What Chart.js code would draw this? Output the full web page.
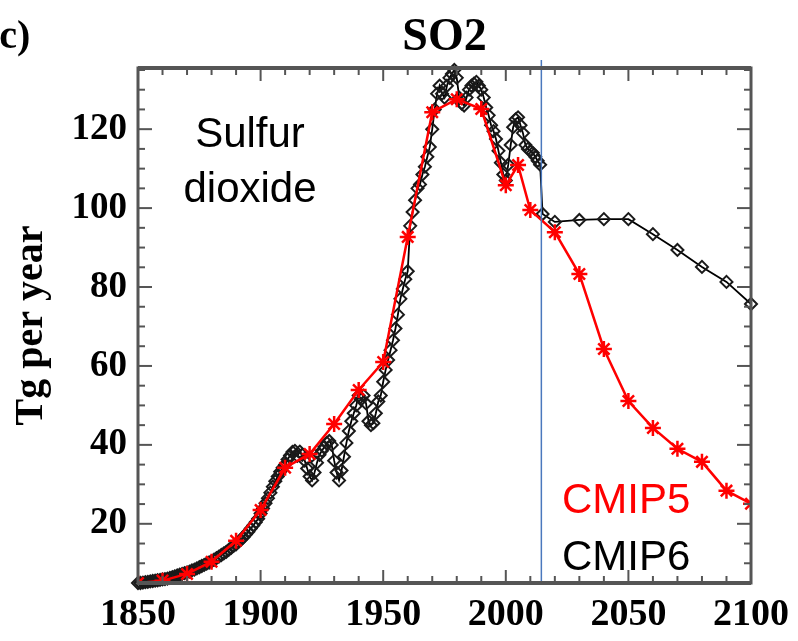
<!DOCTYPE html>
<html>
<head>
<meta charset="utf-8">
<script src="https://cdn.jsdelivr.net/npm/chart.js@4.4.1/dist/chart.umd.min.js"></script>
<style>
  html, body { margin: 0; padding: 0; background: #fff; }
</style>
</head>
<body>
<canvas id="so2Chart" width="798" height="641"></canvas>
<script>
// CMIP5 (red, asterisks)
const cmip5Years = [1850, 1860, 1870, 1880, 1890, 1900, 1910, 1920, 1930, 1940, 1950, 1960, 1970, 1980, 1990, 2000, 2005, 2010, 2020, 2030, 2040, 2050, 2060, 2070, 2080, 2090, 2100];
const cmip5Values = [5.0, 5.6, 7.3, 10.4, 15.7, 23.5, 34.2, 37.7, 45.3, 53.9, 61.0, 92.7, 124.3, 127.6, 125.1, 105.8, 110.9, 99.5, 93.9, 83.3, 64.3, 51.1, 44.3, 39.0, 35.7, 28.4, 25.1];

// CMIP6 (black, diamonds): annual 1850-2014, then scenario years
const cmip6HistValues = [
    5.0, 5.0, 5.1, 5.2, 5.3, 5.4, 5.5, 5.6, 5.7, 5.8,
    5.9, 6.0, 6.1, 6.3, 6.5, 6.7, 6.9, 7.1, 7.3, 7.5,
    7.7, 7.9, 8.2, 8.4, 8.7, 9.0, 9.3, 9.6, 9.9, 10.2,
    10.5, 10.9, 11.3, 11.7, 12.1, 12.5, 12.9, 13.4, 13.9, 14.4,
    14.8, 15.4, 16.0, 16.6, 17.3, 18.0, 18.8, 19.6, 20.4, 21.3,
    22.6, 23.9, 25.2, 26.5, 27.9, 29.4, 30.8, 32.0, 33.2, 34.2,
    35.0, 36.3, 37.3, 38.2, 38.5, 37.2, 38.3, 37.5, 36.0, 34.0,
    32.0, 31.0, 33.0, 35.5, 37.5, 38.5, 39.5, 40.5, 41.0, 40.0,
    36.0, 33.0, 31.0, 33.5, 37.0, 40.5, 43.5, 46.0, 48.0, 50.0,
    52.5, 51.5, 52.5, 50.5, 46.0, 45.0, 45.5, 48.0, 51.0, 52.5,
    56.0, 59.0, 61.5, 64.0, 66.5, 69.5, 73.0, 77.0, 79.5, 82.0,
    84.0, 95.5, 99.0, 102.0, 105.0, 106.0, 108.5, 110.5, 113.0, 115.5,
    120.0, 125.0, 129.0, 131.0, 129.0, 128.0, 131.0, 133.0, 134.0, 135.0,
    133.0, 128.0, 126.5, 126.0, 128.0, 130.0, 131.0, 131.5, 132.0, 131.0,
    130.0, 128.0, 125.5, 123.5, 121.0, 119.5, 117.5, 114.5, 111.5, 108.5,
    107.0, 111.0, 116.0, 120.5, 122.5, 123.0, 121.0, 119.0, 116.0, 115.0,
    114.5, 114.0, 113.0, 112.0, 111.0
];
const cmip6FutureYears = [2015, 2020, 2030, 2040, 2050, 2060, 2070, 2080, 2090, 2100];
const cmip6FutureValues = [98.5, 96.5, 97.0, 97.2, 97.2, 93.4, 89.4, 85.1, 81.3, 75.7];

const xTicks = [1850, 1900, 1950, 2000, 2050, 2100];
const yTicks = [20, 40, 60, 80, 100, 120];
const splitYear = 2014.5;

const cmip5Points = cmip5Years.map((yr, i) => ({ x: yr, y: cmip5Values[i] }));
const cmip6Points = cmip6HistValues.map((v, i) => ({ x: 1850 + i, y: v }))
    .concat(cmip6FutureYears.map((yr, i) => ({ x: yr, y: cmip6FutureValues[i] })));

const serif = '"Liberation Serif", "Times New Roman", serif';
const sans = '"Liberation Sans", Arial, sans-serif';

function line(ctx, x1, y1, x2, y2) {
    ctx.beginPath();
    ctx.moveTo(x1, y1);
    ctx.lineTo(x2, y2);
    ctx.stroke();
}

// frame with inward ticks, split line and text labels
const decorations = {
    id: 'decorations',
    afterDatasetsDraw(chart) {
        const { ctx, chartArea: a, scales: { x, y } } = chart;
        ctx.save();

        // blue line at end of historical period
        ctx.strokeStyle = '#4a78bd';
        ctx.lineWidth = 1.5;
        const sx = x.getPixelForValue(splitYear);
        line(ctx, sx, a.top - 8, sx, a.bottom);

        ctx.strokeStyle = '#555';
        ctx.lineWidth = 2;
        for (let yr = 1850; yr <= 2100; yr += 10) {
            const px = x.getPixelForValue(yr);
            const len = yr % 50 === 0 ? 13 : 7;
            line(ctx, px, a.bottom, px, a.bottom - len);
            line(ctx, px, a.top, px, a.top + len);
        }
        for (let v = 10; v <= 135; v += 5) {
            const py = y.getPixelForValue(v);
            const len = v % 20 === 0 ? 14 : 7;
            line(ctx, a.left, py, a.left + len, py);
            line(ctx, a.right, py, a.right - len, py);
        }
        ctx.lineWidth = 3;
        ctx.strokeRect(a.left, a.top, a.right - a.left, a.bottom - a.top);
        ctx.lineWidth = 4;
        line(ctx, a.left, a.top, a.right, a.top);
        line(ctx, a.left, a.bottom, a.right, a.bottom);

        // texts
        ctx.fillStyle = '#000';
        ctx.textBaseline = 'alphabetic';
        ctx.font = 'bold 46px ' + serif;
        ctx.textAlign = 'center';
        ctx.fillText('SO2', (a.left + a.right) / 2, 50);
        ctx.textAlign = 'left';
        ctx.font = 'bold 40px ' + serif;
        ctx.fillText('(c)', -14, 48);

        ctx.font = '42px ' + sans;
        ctx.textAlign = 'center';
        ctx.fillText('Sulfur', 250, 147);
        ctx.fillText('dioxide', 250, 202);

        ctx.textAlign = 'left';
        ctx.fillStyle = '#ff0000';
        ctx.fillText('CMIP5', 562, 513);
        ctx.fillStyle = '#000';
        ctx.fillText('CMIP6', 562, 570);

        ctx.restore();
    }
};

const ctx = document.getElementById('so2Chart').getContext('2d');
const chart = new Chart(ctx, {
    type: 'line',
    data: {
        datasets: [{
            label: 'CMIP5',
            data: cmip5Points,
            borderColor: '#ff0000',
            backgroundColor: '#ff0000',
            borderWidth: 2.5,
            pointStyle: 'star',
            pointRadius: 8,
            pointBorderWidth: 2.5,
            tension: 0
        }, {
            label: 'CMIP6',
            data: cmip6Points,
            borderColor: '#000',
            backgroundColor: 'rgba(0,0,0,0)',
            borderWidth: 1.8,
            pointStyle: 'rectRot',
            pointRadius: 6,
            pointBorderWidth: 2,
            pointBorderColor: '#1a1a1a',
            tension: 0,
            clip: false
        }]
    },
    options: {
        responsive: false,
        animation: false,
        layout: { padding: { left: 0, right: 42, top: 68, bottom: 0 } },
        plugins: {
            legend: { display: false },
            tooltip: { enabled: false }
        },
        scales: {
            x: {
                type: 'linear',
                min: 1850,
                max: 2100,
                afterFit: s => { s.height = 58; },
                afterBuildTicks: s => { s.ticks = xTicks.map(v => ({ value: v })); },
                grid: { display: false, drawTicks: false },
                border: { display: false },
                ticks: {
                    color: '#000',
                    padding: 9,
                    maxRotation: 0,
                    callback: v => String(v),
                    font: { family: serif, size: 38, weight: 'bold' }
                }
            },
            y: {
                min: 5,
                max: 135.5,
                afterFit: s => { s.width = 138; },
                afterBuildTicks: s => { s.ticks = yTicks.map(v => ({ value: v })); },
                grid: { display: false, drawTicks: false },
                border: { display: false },
                title: {
                    display: true,
                    text: 'Tg per year',
                    color: '#000',
                    padding: { top: 8, bottom: 0 },
                    font: { family: serif, size: 40, weight: 'bold' }
                },
                ticks: {
                    color: '#000',
                    padding: 11,
                    callback: v => String(v),
                    font: { family: serif, size: 37, weight: 'bold' }
                }
            }
        }
    },
    plugins: [decorations]
});
</script>
</body>
</html>
